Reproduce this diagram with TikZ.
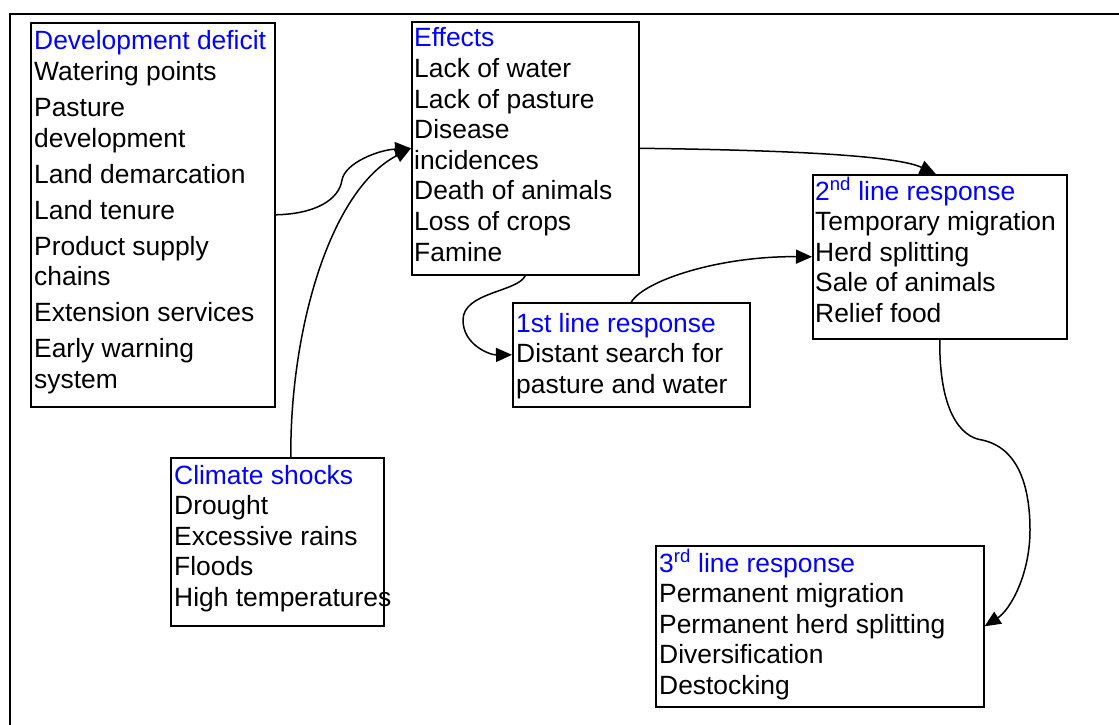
\documentclass[tikz,border=0pt]{standalone}
\usepackage{fontspec}
\setmainfont{Liberation Sans}
\usetikzlibrary{arrows.meta}
\newcommand\hdr[1]{\textcolor{blue}{#1}}
\newcommand\lines[1]{\parbox[t]{400pt}{\raggedright\hyphenpenalty=10000 #1}}
\begin{document}
\begin{tikzpicture}[x=1pt,y=-1pt,
  box/.style={draw, line width=1.6pt, inner sep=0pt, anchor=north west},
  txt/.style={inner sep=0pt, anchor=base west, font=\fontsize{26.4}{30.6}\selectfont},
  conn/.style={line width=1.5pt, -{Triangle[length=16pt,width=14pt]}}]
\useasboundingbox (0,0) rectangle (1119,725);
\fill[white] (0,0) rectangle (1119,725);
\draw[line width=2pt] (10,725) -- (10,14) -- (1119,14);
% boxes
\node[box, minimum width=244pt, minimum height=384pt] (dev) at (30,22) {};
\node[box, minimum width=227pt, minimum height=253pt] (eff) at (411,21) {};
\node[box, minimum width=213pt, minimum height=168pt] (clim) at (170,457) {};
\node[box, minimum width=237pt, minimum height=104pt] (r1) at (512,302) {};
\node[box, minimum width=254pt, minimum height=164pt] (r2) at (812,174) {};
\node[box, minimum width=328pt, minimum height=161pt] (r3) at (655,545) {};
% texts
\node[txt] (devt) at (34,50) {\lines{\hdr{Development deficit}\\
Watering points\\[5.4pt]
Pasture\\ development\\[5.4pt]
Land demarcation\\[5.4pt]
Land tenure\\[5.4pt]
Product supply\\ chains\\[5.4pt]
Extension services\\[5.4pt]
Early warning\\ system}};
\node[txt] (efft) at (414,47) {\lines{\hdr{Effects}\\
Lack of water\\ Lack of pasture\\ Disease\\ incidences\\ Death of animals\\ Loss of crops\\ Famine}};
\node[txt] (climt) at (174,484) {\lines{\hdr{Climate shocks}\\
Drought\\ Excessive rains\\ Floods\\ High temperatures}};
\node[txt] (r1t) at (516,332) {\lines{\hdr{1st line response}\\
Distant search for\\ pasture and water}};
\node[txt] (r2t) at (815,200) {\lines{\hdr{2\textsuperscript{nd} line response}\\
Temporary migration\\ Herd splitting\\ Sale of animals\\ Relief food}};
\node[txt] (r3t) at (659,572) {\lines{\hdr{3\textsuperscript{rd} line response}\\
Permanent migration\\ Permanent herd splitting\\ Diversification\\ Destocking}};
% connectors
\draw[conn] (dev.east) .. controls (315,214) and (339,200) .. (342,180)
  .. controls (345,163) and (378,150) .. (eff.west);
\draw[conn] ([xshift=13.5pt]clim.north) .. controls (290,330) and (330,190) .. (eff.west);
\draw[conn] (eff.east) .. controls (780,150) and (895,155) .. ([xshift=-4pt]r2.north);
\draw[conn] (eff.south) .. controls (518,292) and (463,292) .. (463,320)
  .. controls (463,345) and (490,355) .. (r1.west);
\draw[conn] (r1.north) .. controls (645,280) and (720,256) .. (r2.west);
\draw[conn] (r2.south) .. controls (939,410) and (960,437) .. (982,440)
  .. controls (1020,448) and (1030,490) .. (1030,530)
  .. controls (1030,575) and (1010,610) .. (r3.east);
\end{tikzpicture}
\end{document}
